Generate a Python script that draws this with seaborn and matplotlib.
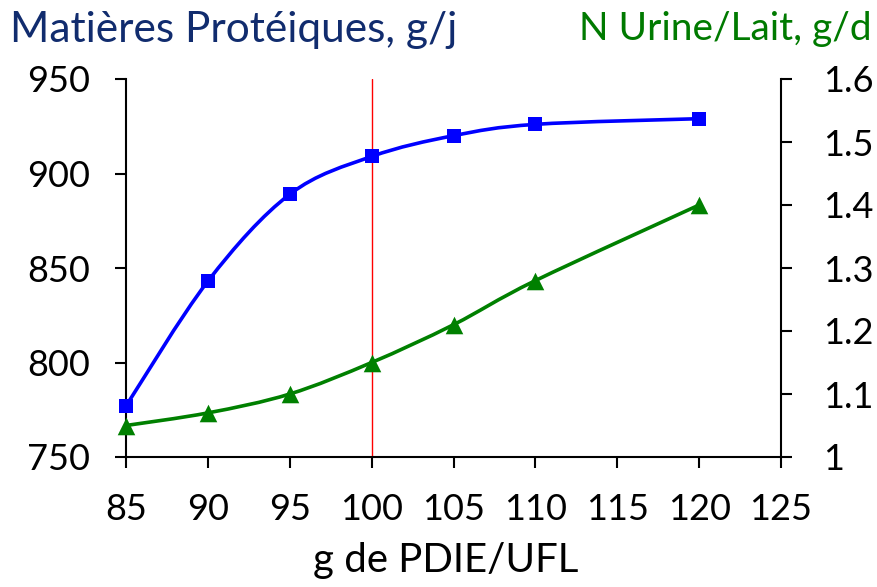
import numpy as np
import pandas as pd
import matplotlib
matplotlib.use("Agg")
import matplotlib.pyplot as plt
from matplotlib.path import Path
from matplotlib.patches import PathPatch
import seaborn as sns

# PDIE/UFL levels (g)
pdie = [85, 90, 95, 100, 105, 110, 120]
# Milk protein output, g/day
proteins = [777, 843, 889, 909, 920, 926, 929]
# Urinary N / milk N ratio
n_ratio = [1.05, 1.07, 1.10, 1.15, 1.21, 1.28, 1.40]

x_ticks = [85, 90, 95, 100, 105, 110, 115, 120, 125]
left_ticks = [750, 800, 850, 900, 950]
right_ticks = [1.0, 1.1, 1.2, 1.3, 1.4, 1.5, 1.6]
right_labels = ["1", "1.1", "1.2", "1.3", "1.4", "1.5", "1.6"]
ref_level = 100

sns.set_theme(style="white")
plt.rcParams["font.family"] = ["Lato", "DejaVu Sans"]

BLUE = "#0000FF"
GREEN = "#008000"
NAVY = "#112C6E"
TITLE_GREEN = "#007A00"
TICK_FS = 26

df = pd.DataFrame({"pdie": pdie, "prot": proteins, "n": n_ratio})

fig = plt.figure(figsize=(8.77, 5.87), dpi=100)
ax = fig.add_axes([126 / 877, 1 - 457 / 587, (781 - 126) / 877, (457 - 79) / 587])
ax2 = ax.twinx()


def smooth_path(xs, ys):
    """Cubic Bezier path through the points (Catmull-Rom control points)."""
    pts = np.column_stack([xs, ys]).astype(float)
    n = len(pts)
    verts = [pts[0]]
    codes = [Path.MOVETO]
    for i in range(n - 1):
        p0 = pts[i - 1] if i > 0 else pts[i]
        p1 = pts[i]
        p2 = pts[i + 1]
        p3 = pts[i + 2] if i + 2 < n else pts[i + 1]
        c1 = p1 + (p2 - p0) / 6.0
        c2 = p2 - (p3 - p1) / 6.0
        verts += [c1, c2, p2]
        codes += [Path.CURVE4] * 3
    return Path(verts, codes)


# reference line at 100 g PDIE/UFL
ax.axvline(ref_level, color="#FF0000", lw=1.0, zorder=1)

# protein curve (left axis)
ax.add_patch(PathPatch(smooth_path(df["pdie"], df["prot"]), fill=False,
                       edgecolor=BLUE, lw=2.6, zorder=3))
sns.scatterplot(data=df, x="pdie", y="prot", ax=ax, marker="s", s=100,
                color=BLUE, edgecolor=BLUE, linewidth=0, zorder=4, clip_on=False)

# N ratio curve (right axis)
ax2.add_patch(PathPatch(smooth_path(df["pdie"], df["n"]), fill=False,
                        edgecolor=GREEN, lw=2.6, zorder=3))
sns.scatterplot(data=df, x="pdie", y="n", ax=ax2, marker="^", s=160,
                color=GREEN, edgecolor=GREEN, linewidth=0, zorder=4, clip_on=False)

ax.set_xlim(85, 125)
ax.set_ylim(750, 950)
ax2.set_ylim(1.0, 1.6)
ax.set_xticks(x_ticks)
ax.set_yticks(left_ticks)
ax2.set_yticks(right_ticks)
ax2.set_yticklabels(right_labels)

for a in (ax, ax2):
    a.set_xlabel("")
    a.set_ylabel("")
    a.grid(False)
    a.set_facecolor("none")
    a.spines["top"].set_visible(False)
    for side in ("left", "bottom", "right"):
        a.spines[side].set_color("black")
        a.spines[side].set_linewidth(1.5)

ax.spines["right"].set_visible(False)
ax2.spines["left"].set_visible(False)
ax2.spines["bottom"].set_visible(False)

ax.tick_params(axis="x", direction="out", length=8, width=1.5, colors="black",
               labelsize=TICK_FS, pad=18, bottom=True)
ax.tick_params(axis="y", direction="out", length=8, width=1.5, colors="black",
               labelsize=TICK_FS, pad=18, left=True)
ax2.tick_params(axis="y", direction="out", length=8, width=1.5, colors="black",
                labelsize=TICK_FS, pad=22, right=True)

ax.set_xlabel("g de PDIE/UFL", fontsize=29, color="black")
ax.xaxis.set_label_coords(0.488, -0.225)
ax.xaxis.label.set_va("top")

fig.text(10 / 877, 1 - 11 / 587, "Matières Protéiques, g/j", fontsize=30.5,
         color=NAVY, ha="left", va="top")
fig.text(872 / 877, 1 - 11 / 587, "N Urine/Lait, g/d", fontsize=28,
         color=TITLE_GREEN, ha="right", va="top")

fig.savefig("out.png", dpi=100)
